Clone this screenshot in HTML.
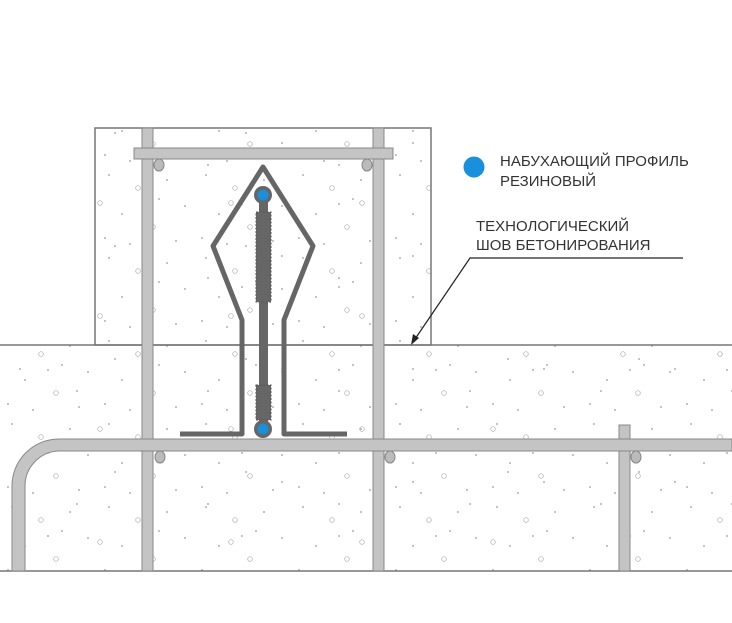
<!DOCTYPE html>
<html><head><meta charset="utf-8"><style>
html,body{margin:0;padding:0;background:#fff;width:732px;height:623px;overflow:hidden}
svg{display:block}
text{font-family:"Liberation Sans",Arial,sans-serif;font-size:15px;fill:#333}
</style></head><body>
<svg width="732" height="623" viewBox="0 0 732 623" xmlns="http://www.w3.org/2000/svg">
<defs>
<pattern id="sp" width="97" height="83" patternUnits="userSpaceOnUse">
<circle cx="12" cy="9" r="0.9" fill="#999"/><circle cx="41" cy="22" r="2.3" fill="none" stroke="#aaa" stroke-width="0.7"/>
<circle cx="70" cy="14" r="0.9" fill="#999"/><circle cx="88" cy="40" r="0.9" fill="#999"/>
<circle cx="25" cy="48" r="0.9" fill="#999"/><circle cx="56" cy="61" r="2.3" fill="none" stroke="#aaa" stroke-width="0.7"/>
<circle cx="8" cy="72" r="0.9" fill="#999"/><circle cx="79" cy="75" r="0.9" fill="#999"/>
<circle cx="48" cy="38" r="0.9" fill="#999"/><circle cx="33" cy="78" r="0.9" fill="#999"/>
<circle cx="62" cy="33" r="0.9" fill="#999"/>
</pattern>
<pattern id="sp2" width="131" height="113" patternUnits="userSpaceOnUse">
<circle cx="20" cy="30" r="0.9" fill="#999"/><circle cx="100" cy="90" r="2.3" fill="none" stroke="#aaa" stroke-width="0.7"/>
<circle cx="77" cy="52" r="0.9" fill="#999"/><circle cx="115" cy="20" r="0.9" fill="#999"/>
</pattern>
</defs>
<rect x="95" y="128" width="336" height="217" fill="url(#sp)" stroke="#777" stroke-width="1.5"/>
<rect x="95" y="128" width="336" height="217" fill="url(#sp2)"/>
<rect x="0" y="345" width="732" height="226" fill="url(#sp)"/>
<rect x="0" y="345" width="732" height="226" fill="url(#sp2)"/>
<line x1="0" y1="345" x2="732" y2="345" stroke="#777" stroke-width="1.5"/>
<line x1="0" y1="571" x2="732" y2="571" stroke="#777" stroke-width="1.5"/>
<g fill="#c4c4c4" stroke="#888" stroke-width="1">
<rect x="142" y="128" width="11" height="443"/>
<rect x="373" y="128" width="11" height="443"/>
<rect x="619" y="425" width="11" height="146"/>
<rect x="134" y="148" width="259" height="11"/>
<path d="M12 571 V486 A47 47 0 0 1 59 439 H732 V451 H59 A35 35 0 0 0 25 486 V571 Z"/>
</g>
<g fill="#bbb" stroke="#888" stroke-width="1">
<ellipse cx="159" cy="165" rx="5" ry="6"/><ellipse cx="367" cy="165" rx="5" ry="6"/>
<ellipse cx="160" cy="457" rx="5" ry="6"/><ellipse cx="390" cy="457" rx="5" ry="6"/><ellipse cx="636" cy="457" rx="5" ry="6"/>
</g>
<path d="M180 434 H242 V320 L213 246 L263 167 L313 246 L284 320 V434 H347" fill="none" stroke="#666" stroke-width="5" stroke-linejoin="round"/>
<rect x="259" y="195" width="9" height="234" fill="#666"/>
<rect x="256" y="212" width="15" height="90" fill="#666" stroke="#555" stroke-width="1" stroke-dasharray="2 1.5"/>
<rect x="256" y="385" width="15" height="35" fill="#666" stroke="#555" stroke-width="1" stroke-dasharray="2 1.5"/>
<circle cx="263" cy="195" r="9" fill="#666"/><circle cx="263" cy="429" r="9" fill="#666"/>
<circle cx="263" cy="195" r="5.5" fill="#1a8fdc"/><circle cx="263" cy="429" r="5.5" fill="#1a8fdc"/>
<circle cx="474" cy="167" r="10.5" fill="#1a8fdc"/>
<text x="500" y="166">НАБУХАЮЩИЙ ПРОФИЛЬ</text>
<text x="500" y="186">РЕЗИНОВЫЙ</text>
<text x="476" y="231">ТЕХНОЛОГИЧЕСКИЙ</text>
<text x="476" y="250">ШОВ БЕТОНИРОВАНИЯ</text>
<polyline points="683,258 470,258 413,342" fill="none" stroke="#222" stroke-width="1.2"/>
<path d="M411 345 L413 334 L419 338 Z" fill="#222"/>
</svg>
</body></html>
